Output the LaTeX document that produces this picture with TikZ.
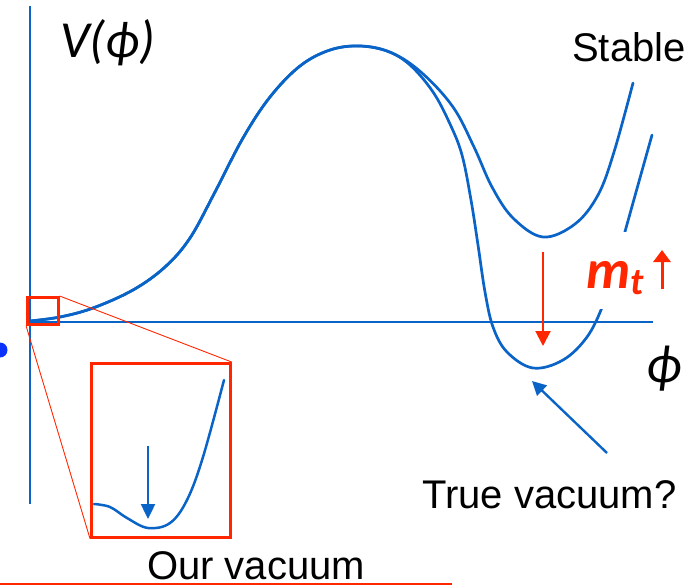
\documentclass[tikz,border=0pt]{standalone}
\usepackage{fontspec}
\setmainfont{Liberation Sans}
\newfontfamily\calib{Carlito}
\usetikzlibrary{arrows.meta}
\definecolor{vblue}{RGB}{10,100,200}
\definecolor{vred}{RGB}{255,38,0}
\definecolor{dotblue}{RGB}{10,50,250}
\tikzset{
  curve/.style={draw=vblue, line width=2.7pt, line cap=round},
  axisline/.style={draw=vblue, line width=2.6pt},
  zoombox/.style={draw=vred, line width=2.6pt},
  zoomline/.style={draw=vred, line width=0.9pt},
  lbl/.style={anchor=base west, inner sep=0pt, font=\fontsize{40}{40}\selectfont},
}
\begin{document}
\begin{tikzpicture}[x=1pt,y=-1pt]
\useasboundingbox (0,0) rectangle (687,586);
% axes
\draw[axisline] (30,6) -- (30,504);
\draw[axisline] (30,322) -- (653,322);
% inner (true vacuum) curve
\draw[curve] plot[smooth, tension=0.6] coordinates {(30,321) (60,317) (93,308) (133,290) (165,267) (190,238) (215,192) (243,138) (270,97) (300,66) (330,50) (360,46) (387,51) (410,65) (433,92) (450,124) (462,155) (471,200) (478,245) (485,292) (493,327) (507,352) (533,368) (563,360) (587,337) (603,305) (616,265) (626,228) (652,135)};
% outer (stable) curve
\draw[curve] plot[smooth, tension=0.6] coordinates {(30,321) (60,317) (93,308) (133,290) (165,267) (190,238) (215,192) (243,138) (270,97) (300,66) (330,50) (360,46) (392,53) (422,73) (453,107) (474,147) (492,187) (513,218) (543,237) (575,224) (598,195) (614,152) (633,83)};
% white patch behind m_t label
\fill[white] (582,232) rectangle (687,309);
% labels
\node[anchor=base west, inner sep=0pt, font=\calib\itshape\fontsize{52}{52}\selectfont] (vphi) at (60,57) {V(ϕ)};
\node[anchor=base west, inner sep=0pt, font=\calib\itshape\fontsize{54}{54}\selectfont] (phi) at (646,382) {ϕ};
\node[lbl] (stable) at (572,62) {Stable};
\node[lbl] (truevac) at (422,508) {True vacuum?};
\node[lbl] (ourvac) at (147,579) {Our vacuum};
\node[anchor=base west, inner sep=0pt, text=vred, font=\calib\bfseries\itshape\fontsize{55}{55}\selectfont] (mt) at (586,288) {m\raisebox{-6pt}{\fontsize{38}{38}\selectfont t}};
% m_t up arrow
\coordinate (mtb) at (662,289);
\coordinate (mtt) at (662,250);
\draw[draw=vred, line width=3pt, -{Triangle[length=12pt,width=17pt]}] (mtb) -- (mtt);
% red down arrow
\coordinate (rda) at (543,252);
\coordinate (rdb) at (543,346);
\draw[draw=vred, line width=2pt, -{Triangle[length=15pt,width=15pt]}] (rda) -- (rdb);
% true vacuum arrow
\coordinate (tva) at (607,453);
\coordinate (tvb) at (532,381);
\draw[draw=vblue, line width=2.4pt, -{Triangle[length=14pt,width=14pt]}] (tva) -- (tvb);
% zoom square and inset
\node[zoombox, inner sep=0pt, minimum width=31pt, minimum height=27pt, anchor=north west] (sq) at (26,296) {};
\node[zoombox, inner sep=0pt, minimum width=139pt, minimum height=174pt, anchor=north west] (inset) at (90,362) {};
\draw[zoomline] (sq.north east) -- (inset.north east);
\draw[zoomline] (sq.south west) -- (inset.south west);
% inset curve
\draw[curve, line width=2.5pt] plot[smooth, tension=0.6] coordinates {(94,504) (110,507) (127,518) (148,528) (170,523) (187,500) (203,457) (224,380)};
\coordinate (ia) at (148,446);
\coordinate (ib) at (148,519);
\draw[draw=vblue, line width=2.4pt, -{Triangle[length=15pt,width=14pt]}] (ia) -- (ib);
% blue dot at left edge
\fill[dotblue] (0,350) circle (7.5);
% bottom red line
\draw[draw=vred, line width=1.8pt] (0,584) -- (452,584);
\end{tikzpicture}
\end{document}
